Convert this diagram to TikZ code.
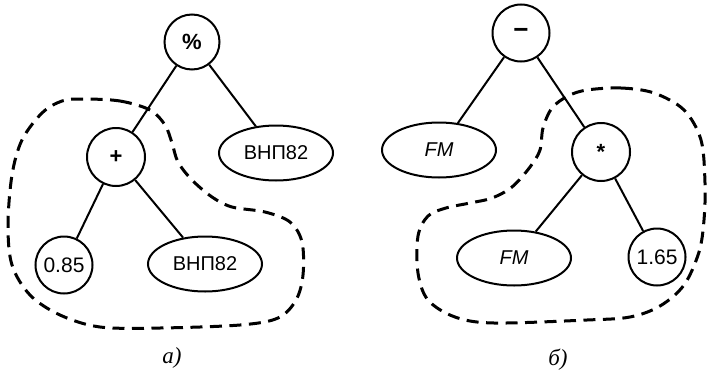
\documentclass[tikz,border=0pt]{standalone}
\usepackage{fontspec}
\setmainfont{Liberation Serif}
\newfontfamily\arialf{Liberation Sans}
\usetikzlibrary{shapes.geometric}
\begin{document}
\begin{tikzpicture}[x=1pt,y=-1pt,
  every node/.style={font=\arialf\fontsize{20}{22}\selectfont, inner sep=0pt, text=black},
  opnode/.style={draw, circle, line width=2pt, minimum size=55pt, font=\arialf\bfseries\fontsize{22}{24}\selectfont},
  numnode/.style={draw, circle, line width=2pt, minimum size=57pt, font=\arialf\fontsize{21}{22}\selectfont},
  varnode/.style={draw, ellipse, line width=2pt, minimum width=114pt, minimum height=55pt},
  edge/.style={line width=2pt},
  region/.style={line width=3pt, dash pattern=on 12pt off 7.5pt},
  caption/.style={font=\rmfamily\itshape\fontsize{23}{26}\selectfont}]
\useasboundingbox (0,0) rectangle (708,380);
% left tree
\node[opnode] (pct) at (192,42) {\%};
\node[opnode, minimum size=58pt] (plus) at (116,157) {+};
\node[varnode] (v1) at (276,153) {ВНП82};
\node[numnode] (n085) at (64,265) {0.85};
\node[varnode] (v2) at (205,264) {ВНП82};
\draw[edge] (pct) -- (plus);
\draw[edge] (pct) -- (v1);
\draw[edge] (plus) -- (n085);
\draw[edge] (plus) -- (v2);
\draw[region] plot[smooth cycle, tension=0.55] coordinates {
 (83,99) (120,101) (150,110) (165,125) (172,143) (178,162) (192,180) (212,197)
 (232,207) (265,212) (290,222) (302,242) (303,275) (296,300) (278,318) (240,325)
 (160,328) (100,327) (60,315) (30,295) (12,265) (8,225) (12,175) (22,140) (42,113) (62,101)};
\node[caption] (capa) at (172,358) {a)};
% right tree
\node[opnode, minimum size=57pt, font=\arialf\bfseries\fontsize{26}{26}\selectfont] (minus) at (521,33) {−};
\node[varnode] (fm1) at (439,150) {\itshape FM};
\node[opnode, minimum size=58pt] (mul) at (601,152) {*};
\node[varnode] (fm2) at (514,258) {\itshape FM};
\node[numnode] (n165) at (657,257) {1.65};
\draw[edge] (minus) -- (fm1);
\draw[edge] (minus) -- (mul);
\draw[edge] (mul) -- (fm2);
\draw[edge] (mul) -- (n165);
\draw[region] plot[smooth cycle, tension=0.55] coordinates {
 (587,90) (621,88) (654,93) (684,110) (701,140) (705,183) (704,220) (699,252)
 (684,285) (660,306) (630,317) (587,320) (494,323) (455,317) (428,300) (418,273)
 (418,236) (428,216) (446,208) (470,203) (492,198) (512,187) (530,167) (540,150)
 (543,128) (552,108) (568,96)};
\node[caption] (capb) at (558,360) {б)};
\end{tikzpicture}
\end{document}
